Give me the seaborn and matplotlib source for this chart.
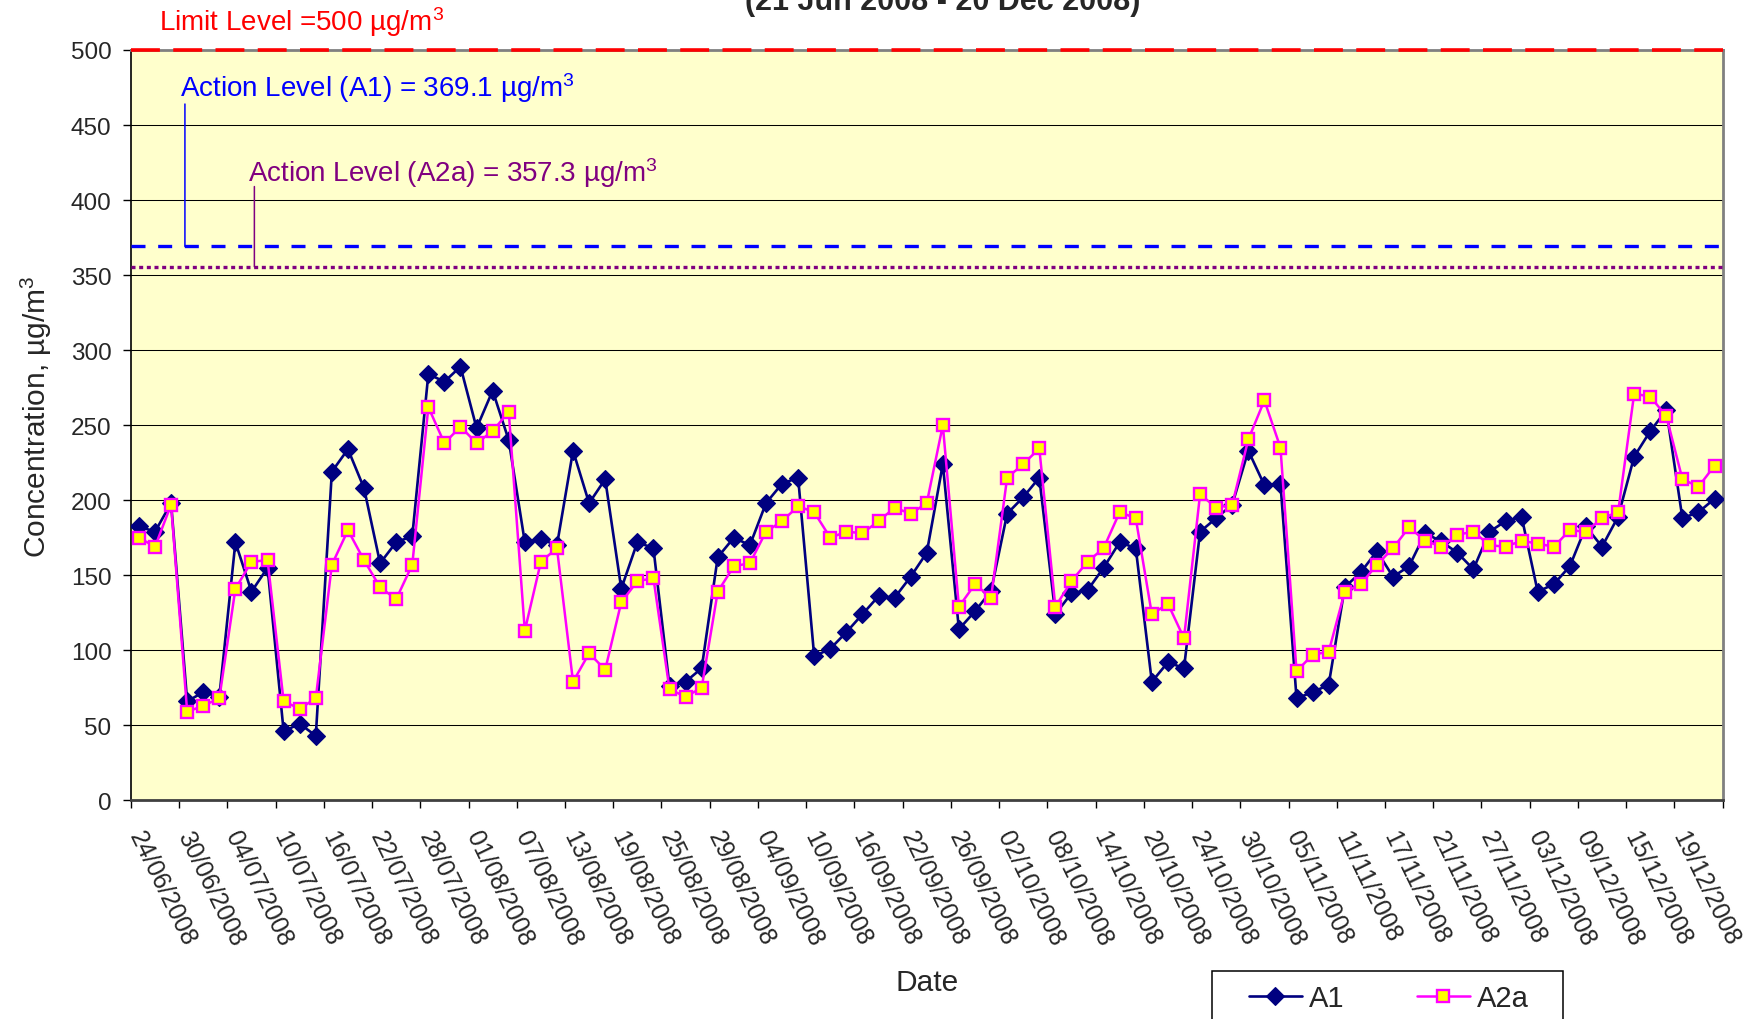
import numpy as np
import pandas as pd
import matplotlib
matplotlib.use('Agg')
import matplotlib.pyplot as plt
import matplotlib.transforms as mtransforms
import seaborn as sns
from matplotlib.patches import Rectangle

# ---------------- data ----------------
tick_dates = ['24/06/2008', '30/06/2008', '04/07/2008', '10/07/2008', '16/07/2008',
              '22/07/2008', '28/07/2008', '01/08/2008', '07/08/2008', '13/08/2008',
              '19/08/2008', '25/08/2008', '29/08/2008', '04/09/2008', '10/09/2008',
              '16/09/2008', '22/09/2008', '26/09/2008', '02/10/2008', '08/10/2008',
              '14/10/2008', '20/10/2008', '24/10/2008', '30/10/2008', '05/11/2008',
              '11/11/2008', '17/11/2008', '21/11/2008', '27/11/2008', '03/12/2008',
              '09/12/2008', '15/12/2008', '19/12/2008']

a1 = [182.5, 179, 198, 66, 72, 69, 172, 139, 155, 46,
      51, 43, 219, 234, 208, 158, 172, 176, 284, 279,
      289, 248, 273, 240, 172, 174, 170, 233, 198, 214,
      141, 172, 168, 76, 79, 88, 162, 175, 170, 198,
      211, 215, 96, 101, 112, 124, 136, 135, 149, 165,
      224, 114, 126, 139.5, 191, 202, 215, 124, 138, 140,
      155, 172, 168, 79, 92, 88, 179, 188, 197, 233,
      210, 211, 68, 72, 77, 142, 152, 166, 149, 156,
      178, 172.5, 165, 154, 179, 186, 189, 139, 144, 156,
      182.5, 169, 189, 229, 246, 260, 188, 192, 201]

a2a = [175, 169, 197, 59, 63, 68, 141, 159, 160, 66,
       61, 68, 157, 180, 160, 142, 134, 157, 262, 238,
       249, 238, 246, 259, 113, 159, 168, 79, 98, 87,
       132, 146, 148, 74, 69, 75, 139, 156, 158, 179,
       186, 196, 192, 175, 179, 178, 186, 195, 191, 198,
       250, 129, 144, 135, 215, 224, 234.5, 129, 146, 159,
       168, 192, 188, 124, 131, 108, 204, 195, 197, 240.5,
       266.5, 235, 86, 97, 99, 139, 144, 157, 168, 182,
       173, 169, 177, 179, 170, 169, 173, 171, 169, 180,
       179, 188, 192, 271, 269, 256, 214, 209, 223]

limit_level = 500
action_a1 = 369.1
action_a2a = 355.5   # drawn position of the A2a action line

# ---------------- style ----------------
sns.set_style('white')
plt.rcParams['font.family'] = ['Liberation Sans', 'DejaVu Sans']
plt.rcParams['mathtext.fontset'] = 'custom'
plt.rcParams['mathtext.rm'] = 'Liberation Sans'
plt.rcParams['mathtext.it'] = 'Liberation Sans:italic'
plt.rcParams['mathtext.bf'] = 'Liberation Sans:bold'
plt.rcParams['mathtext.default'] = 'rm'

fig = plt.figure(figsize=(17.54, 10.20), dpi=100)
ax = fig.add_axes([0.07463, 0.21441, 0.90747, 0.73559])
ax.set_facecolor('#FFFFCC')

df = pd.DataFrame({'idx': np.arange(len(a1)), 'A1': a1, 'A2a': a2a})

sns.lineplot(data=df, x='idx', y='A1', ax=ax, color='#000080', linewidth=1.9,
             marker='D', markersize=9.5, markerfacecolor='#000080',
             markeredgecolor='#000080', markeredgewidth=0.8, zorder=4)
sns.lineplot(data=df, x='idx', y='A2a', ax=ax, color='#FF00FF', linewidth=1.8,
             marker='s', markersize=8, markerfacecolor='#FFFF00',
             markeredgecolor='#FF00FF', markeredgewidth=1.7, zorder=5)
series_lines = list(ax.lines[:2])

# reference levels
ax.axhline(limit_level, color='#FF0000', linewidth=2.6, dashes=(8, 3.7),
           clip_on=False, zorder=7)
ax.axhline(action_a1, color='#0000FF', linewidth=2.4, dashes=(4.2, 3.8), zorder=3)
ax.axhline(action_a2a, color='#800080', linewidth=2.4, dashes=(1.2, 1.1), zorder=3)

# annotations
ax.annotate('', xy=(2.86, action_a1), xytext=(2.86, 464),
            arrowprops=dict(arrowstyle='-', color='#0000FF', lw=1.1,
                            shrinkA=0, shrinkB=0))
ax.annotate('', xy=(7.18, action_a2a), xytext=(7.18, 409),
            arrowprops=dict(arrowstyle='-', color='#800080', lw=1.1,
                            shrinkA=0, shrinkB=0))
ax.text(2.58, 469.5, 'Action Level (A1) = 369.1 µg/m$^{3}$', color='#0000FF',
        fontsize=20, ha='left', va='baseline')
ax.text(6.81, 412.5, 'Action Level (A2a) = 357.3 µg/m$^{3}$', color='#800080',
        fontsize=20, ha='left', va='baseline')
ax.text(1.22, 513.2, 'Limit Level =500 µg/m$^{3}$', color='#FF0000',
        fontsize=20, ha='left', va='baseline', clip_on=False)

# axes
ax.set_xlim(-0.5, 98.5)
ax.set_ylim(0, 500)
ax.set_yticks(np.arange(0, 501, 50))
ax.yaxis.grid(True, color='#000000', linewidth=0.75)
ax.xaxis.grid(False)

ax.set_xticks(np.arange(0, 99, 3))
ax.set_xticklabels(tick_dates, rotation=-64, ha='left', va='top',
                   rotation_mode='anchor', fontsize=17.8)
ax.set_xticks(np.arange(-0.5, 99, 3), minor=True)
ax.tick_params(axis='x', which='major', bottom=True, length=0, pad=19)
ax.tick_params(axis='x', which='minor', bottom=True, length=5.5, width=1,
               color='black', direction='out')
ax.tick_params(axis='y', which='major', left=True, length=6, width=1,
               pad=8, labelsize=17.5, color='black', direction='out')

for s, c, w in [('left', 'black', 1.2), ('bottom', '#404040', 2.0),
                ('right', '#808080', 2.0), ('top', '#808080', 2.0)]:
    ax.spines[s].set_visible(True)
    ax.spines[s].set_color(c)
    ax.spines[s].set_linewidth(w)

ax.set_xlabel('Date', fontsize=21.5)
ax.xaxis.set_label_coords(0.5, -0.253)
ax.xaxis.label.set_va('baseline')
ax.set_ylabel('Concentration, µg/m$^{3}$', fontsize=21.5)
ax.yaxis.set_label_coords(-0.0536, 0.513)
ax.yaxis.label.set_va('baseline')

# shift date labels slightly to the right (after all tick_params calls)
offset = mtransforms.ScaledTranslation(0.07, 0, fig.dpi_scale_trans)
for tick in ax.xaxis.get_major_ticks():
    tick.label1.set_transform(tick.label1.get_transform() + offset)

# partially visible title (cropped at top in the reference)
fig.text(942.5 / 1754, 1 - 10 / 1020, '(21 Jun 2008 - 20 Dec 2008)',
         ha='center', va='baseline', fontsize=22, fontweight='bold')

# legend (box runs off the bottom edge)
frame = Rectangle((1211.5 / 1754, -0.05), (1562.7 - 1211.5) / 1754,
                  0.05 + 1 - 971.7 / 1020, transform=fig.transFigure,
                  facecolor='white', edgecolor='black', linewidth=1.1, zorder=1)
fig.add_artist(frame)
fig.legend(series_lines, ['A1', 'A2a'], loc='center left',
           bbox_to_anchor=(1249 / 1754, 1 - 999 / 1020), ncol=2, frameon=False,
           fontsize=21, handlelength=1.8, handletextpad=0.25, columnspacing=2.5,
           borderpad=0, borderaxespad=0)

fig.savefig('out.png', dpi=100)
